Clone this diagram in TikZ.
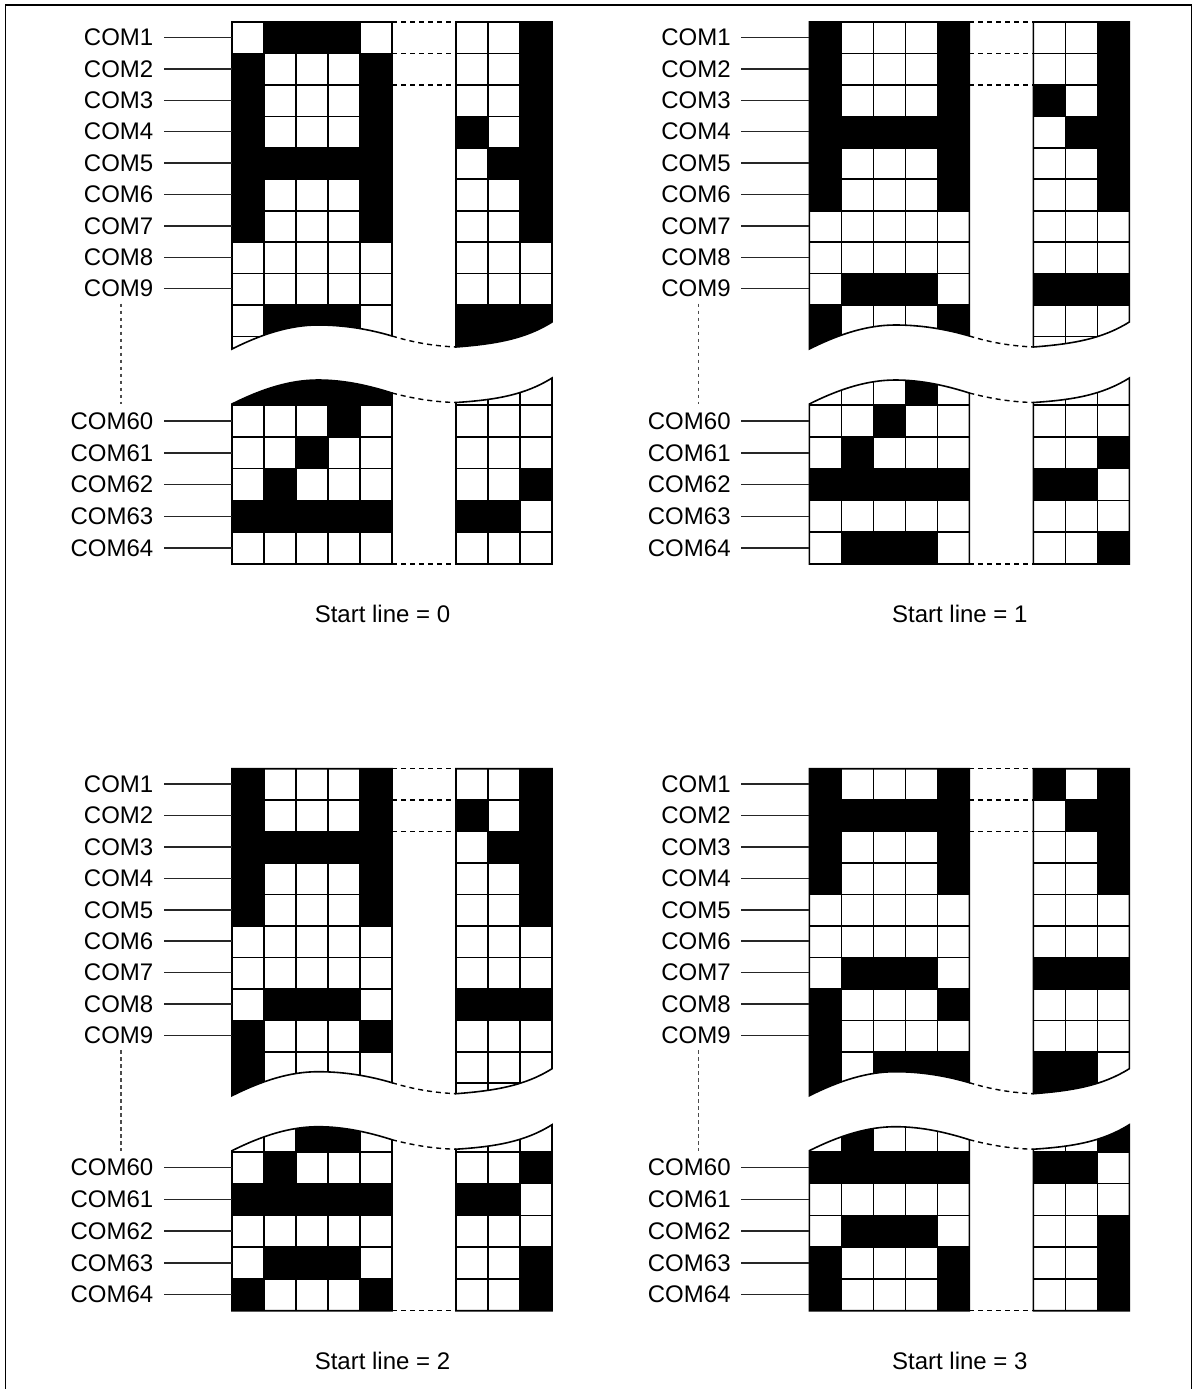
\documentclass[tikz,border=0pt]{standalone}
\usepackage{fontspec}
\setmainfont{Liberation Sans}
\usepackage{xcolor}
\usetikzlibrary{calc}
\tikzset{
    gridline/.style={black, line width=1.6pt},
    dashline/.style={black, line width=1.4pt, dash pattern=on 5pt off 4pt},
    comdots/.style={black!70, line width=1.3pt, dash pattern=on 3.5pt off 3.5pt},
    comlabel/.style={font=\fontsize{24}{28}\selectfont, anchor=east, inner xsep=10.5pt, inner ysep=0pt},
    comlead/.style={black!85, line width=1.5pt},
    startlabel/.style={font=\fontsize{24}{28}\selectfont, inner sep=0pt}
}
% the four pieces of a panel, cut by the wavy break
\def\cutUL{(232,22) -- (392,22) -- (392,336) .. controls (370,329.5) and (345,325) .. (318,325) .. controls (290,325) and (262,334) .. (232,349) -- cycle}
\def\cutUR{(456,22) -- (552,22) -- (552,322) .. controls (525,339) and (495,344) .. (456,347) -- cycle}
\def\cutLL{(232,404) .. controls (262,389) and (290,380) .. (318,380) .. controls (345,380) and (370,386) .. (392,393) -- (392,564) -- (232,564) -- cycle}
\def\cutLR{(456,402.5) .. controls (495,400) and (525,395) .. (552,378) -- (552,564) -- (456,564) -- cycle}
% #1 name, #2 shift, #3 start line, #4 black cells as row/{columns}, columns 6-8 are the right block
\newcommand{\startpanel}[4]{
\begin{scope}[shift={#2}]
    \begin{scope}
        \clip \cutUL \cutUR \cutLL \cutLR;
        \foreach \r/\cols in {#4} {
            \foreach \c in \cols {
                \pgfmathsetmacro{\cx}{\c<6 ? 232+32*(\c-1) : 456+32*(\c-6)}
                \pgfmathsetmacro{\ry}{\r<12 ? 22+31.45*(\r-1) : 405+31.8*(\r-13)}
                \pgfmathsetmacro{\rh}{\r<12 ? 31.45 : 31.8}
                \fill[black] (\cx-0.2,\ry-0.2) rectangle (\cx+32.2,\ry+\rh+0.2);
            }
        }
        \foreach \x in {264,296,328,360,488,520}
            \draw[gridline] (\x,22) -- (\x,564);
        \foreach \k in {1,...,10}
            \draw[gridline] (232,22+31.45*\k) -- (552,22+31.45*\k);
        \foreach \k in {0,...,4}
            \draw[gridline] (232,405+31.8*\k) -- (552,405+31.8*\k);
    \end{scope}
    \draw[gridline, line join=miter] \cutUL \cutUR \cutLL \cutLR;
    % dashed links over the gap
    \foreach \k in {0,1,2}
        \draw[dashline] (392,22+31.45*\k) -- (456,22+31.45*\k);
    \draw[dashline] (392,336) .. controls (415,343) and (435,346) .. (456,347);
    \draw[dashline] (392,393) .. controls (415,399) and (435,402) .. (456,402.5);
    \draw[dashline] (392,564) -- (456,564);
    % row names
    \foreach \n [count=\i] in {1,...,9} {
        \node[comlabel] (#1com\n) at (164,37.5+31.4*\i-31.4) {COM\n};
        \coordinate (#1end\n) at (232,37.5+31.4*\i-31.4);
        \draw[comlead] (#1com\n) -- (#1end\n);
    }
    \foreach \n [count=\i] in {60,...,64} {
        \node[comlabel] (#1com\n) at (164,421+31.75*\i-31.75) {COM\n};
        \coordinate (#1end\n) at (232,421+31.75*\i-31.75);
        \draw[comlead] (#1com\n) -- (#1end\n);
    }
    \coordinate (#1dotsa) at (121,303.5);
    \coordinate (#1dotsb) at (121,404);
    \draw[comdots] (#1dotsa) -- (#1dotsb);
    \node[startlabel] (#1start) at (382.5,614) {Start line = #3};
\end{scope}
}

\begin{document}
\begin{tikzpicture}[x=1pt, y=-1pt]
\useasboundingbox (0,0) rectangle (1201,1389);
\coordinate (frameA) at (5.5,1389);
\coordinate (frameB) at (5.5,5);
\coordinate (frameC) at (1191.5,5);
\coordinate (frameD) at (1191.5,1389);
\draw[black, line width=1.4pt] (frameA) -- (frameB) -- (frameC) -- (frameD);

\startpanel{pa}{(0,0)}{0}{1/{2,3,4,8},2/{1,5,8},3/{1,5,8},4/{1,5,6,8},5/{1,2,3,4,5,7,8},6/{1,5,8},7/{1,5,8},
    10/{2,3,4,6,7,8},11/{6,7,8},12/{1,2,3,4,5},13/{4},14/{3},15/{2,8},16/{1,2,3,4,5,6,7}}
\startpanel{pb}{(577.3,0)}{1}{1/{1,5,8},2/{1,5,8},3/{1,5,6,8},4/{1,2,3,4,5,7,8},5/{1,5,8},6/{1,5,8},
    9/{2,3,4,6,7,8},10/{1,5},11/{1},12/{4},13/{3},14/{2,8},15/{1,2,3,4,5,6,7},17/{2,3,4,8}}
\startpanel{pc}{(0,746.7)}{2}{1/{1,5,8},2/{1,5,6,8},3/{1,2,3,4,5,7,8},4/{1,5,8},5/{1,5,8},
    8/{2,3,4,6,7,8},9/{1,5},10/{1},11/{1},12/{3,4},13/{2,8},14/{1,2,3,4,5,6,7},16/{2,3,4,8},17/{1,5,8}}
\startpanel{pd}{(577.3,746.7)}{3}{1/{1,5,6,8},2/{1,2,3,4,5,7,8},3/{1,5,8},4/{1,5,8},
    7/{2,3,4,6,7,8},8/{1,5},9/{1},10/{1,3,4,5,6,7},11/{1,3,4,5,6,7},12/{2,8},13/{1,2,3,4,5,6,7},15/{2,3,4,8},16/{1,5,8},17/{1,5,8}}
\end{tikzpicture}
\end{document}
